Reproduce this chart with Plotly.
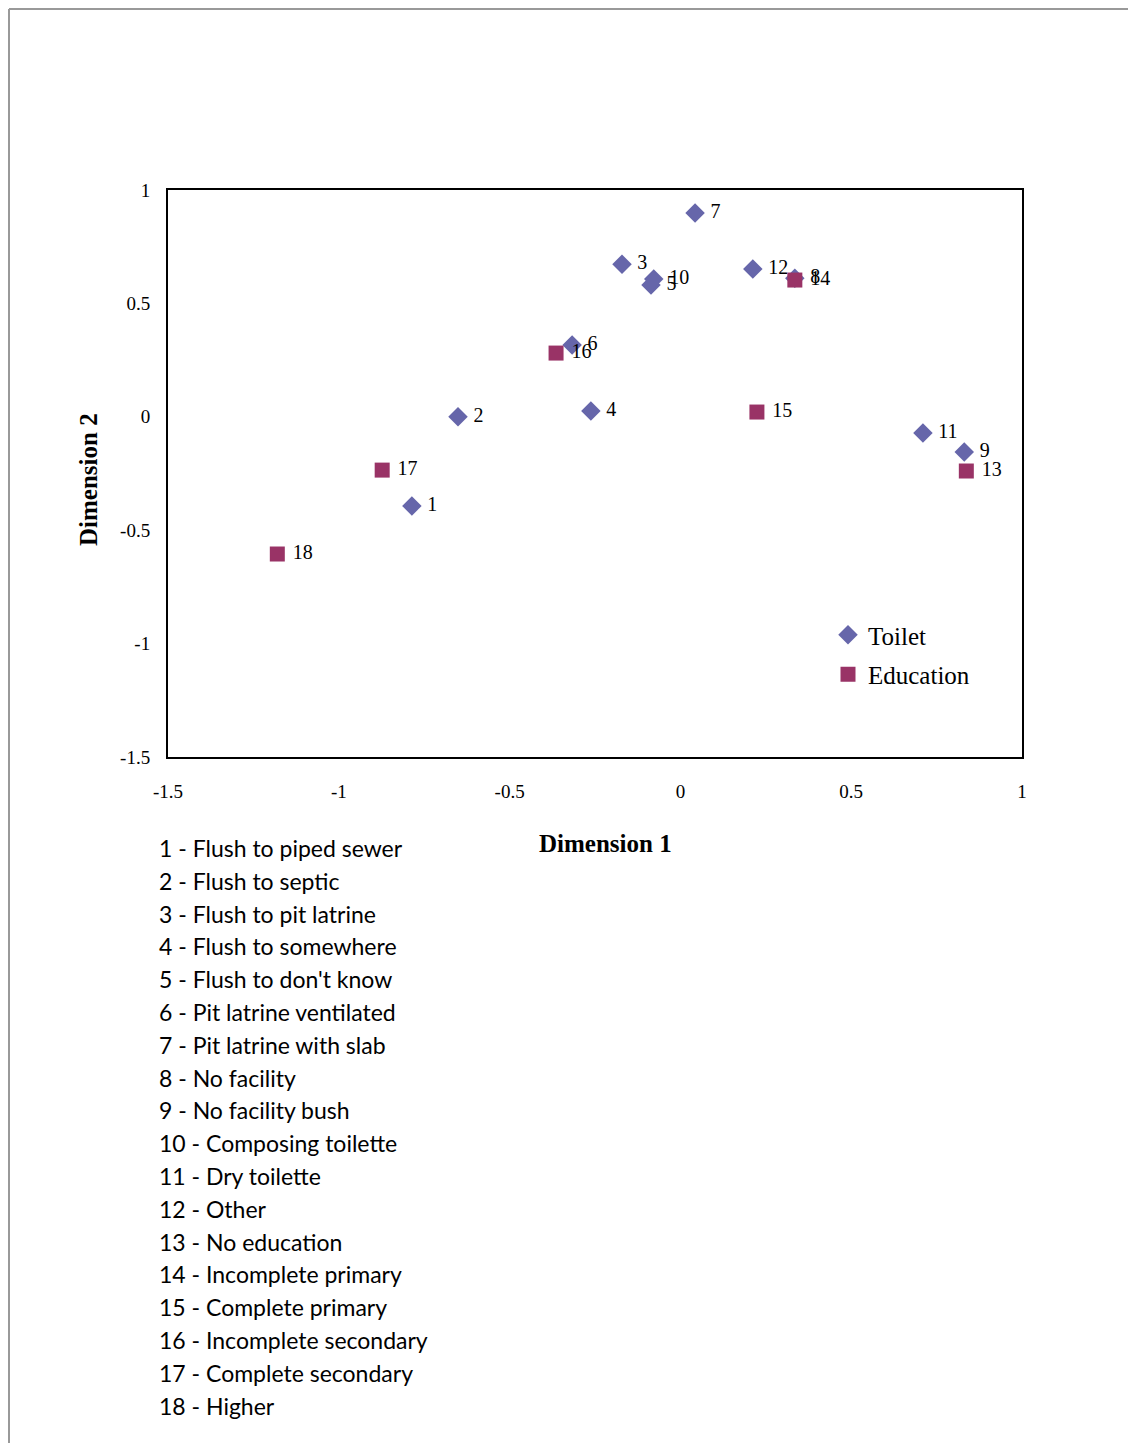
import plotly.graph_objects as go

# ---- data ----
toilet_ids = ["1", "2", "3", "4", "5", "6", "7", "8", "9", "10", "11", "12"]
toilet_x = [-0.786, -0.651, -0.171, -0.262, -0.086, -0.317, 0.043, 0.335, 0.831, -0.078, 0.710, 0.212]
toilet_y = [-0.393, 0.000, 0.673, 0.026, 0.581, 0.317, 0.899, 0.611, -0.155, 0.608, -0.071, 0.652]

edu_ids = ["13", "14", "15", "16", "17", "18"]
edu_x = [0.837, 0.335, 0.224, -0.364, -0.873, -1.180]
edu_y = [-0.239, 0.603, 0.021, 0.281, -0.235, -0.605]

tick_vals = [-1.5, -1, -0.5, 0, 0.5, 1]
tick_text = ["-1.5", "-1", "-0.5", "0", "0.5", "1"]

key_lines = [
    "1 - Flush to piped sewer",
    "2 - Flush to septic",
    "3 - Flush to pit latrine",
    "4 - Flush to somewhere",
    "5 - Flush to don't know",
    "6 - Pit latrine ventilated",
    "7 - Pit latrine with slab",
    "8 - No facility",
    "9 - No facility bush",
    "10 - Composing toilette",
    "11 - Dry toilette",
    "12 - Other",
    "13 - No education",
    "14 - Incomplete primary",
    "15 - Complete primary",
    "16 - Incomplete secondary",
    "17 - Complete secondary",
    "18 - Higher",
]

# ---- layout geometry (page pixels; the page adds an 8px body margin) ----
OFF = 8
W, H = 1136 - OFF, 1443 - OFF
L, R, T, B = 168 - OFF, 1022 - OFF, 190 - OFF, 757 - OFF
pw, ph = R - L, B - T


def px_x(page_px):
    return (page_px - OFF - L) / pw


def px_y(page_py):
    return (B - (page_py - OFF)) / ph


SERIF = "Liberation Serif"
TOILET_C = "#6666AA"
EDU_C = "#993366"
NB = "\u00a0"

fig = go.Figure()
fig.add_trace(go.Scatter(
    x=toilet_x, y=toilet_y, text=toilet_ids, mode="markers+text",
    name="Toilet", textposition="middle right", texttemplate=NB + "%{text}",
    legendgroup="t",
    marker=dict(symbol="diamond", size=15, color=TOILET_C),
    textfont=dict(family=SERIF, size=20, color="black"),
))
fig.add_trace(go.Scatter(
    x=edu_x, y=edu_y, text=edu_ids, mode="markers+text",
    name="Education", textposition="middle right", texttemplate=NB + "%{text}",
    legendgroup="e",
    marker=dict(symbol="square", size=15, color=EDU_C),
    textfont=dict(family=SERIF, size=20, color="black"),
))

axis_common = dict(
    showgrid=False, zeroline=False, showline=True, linecolor="black",
    linewidth=2, mirror=True, ticks="", tickvals=tick_vals, ticktext=tick_text,
    tickfont=dict(family=SERIF, size=19, color="black"),
)
fig.update_xaxes(range=[-1.5, 1], ticklabelstandoff=16, **axis_common)
fig.update_yaxes(range=[-1.5, 1], ticklabelstandoff=12, **axis_common)

annotations = [
    dict(text="<b>Dimension 1</b>", x=px_x(605), y=px_y(843), xref="paper", yref="paper",
         showarrow=False, font=dict(family=SERIF, size=25, color="black"),
         xanchor="center", yanchor="middle"),
    dict(text="<b>Dimension 2</b>", x=px_x(88), y=px_y(480), xref="paper", yref="paper",
         showarrow=False, textangle=-90, font=dict(family=SERIF, size=25, color="black"),
         xanchor="center", yanchor="middle"),
]
for i, line in enumerate(key_lines):
    annotations.append(dict(
        text=line, x=px_x(157), y=px_y(848 + i * 32.8), xref="paper", yref="paper",
        showarrow=False, font=dict(family="Lato", size=23, color="black"),
        xanchor="left", yanchor="middle",
    ))

# thin grey page frame (top and left edges)
shapes = [
    dict(type="line", xref="paper", yref="paper", x0=px_x(9), x1=px_x(1140),
         y0=px_y(9), y1=px_y(9), line=dict(color="#999999", width=2)),
    dict(type="line", xref="paper", yref="paper", x0=px_x(9), x1=px_x(9),
         y0=px_y(9), y1=px_y(1450), line=dict(color="#999999", width=2)),
]

fig.update_layout(
    width=W, height=H,
    margin=dict(l=L, r=W - R, t=T, b=H - B),
    paper_bgcolor="white", plot_bgcolor="white",
    annotations=annotations, shapes=shapes,
    showlegend=True,
    legend=dict(x=px_x(828), y=px_y(612), xanchor="left", yanchor="top",
                font=dict(family=SERIF, size=25, color="black"),
                bgcolor="rgba(0,0,0,0)", itemwidth=30, tracegroupgap=4),
)

fig.write_html("out.html")
